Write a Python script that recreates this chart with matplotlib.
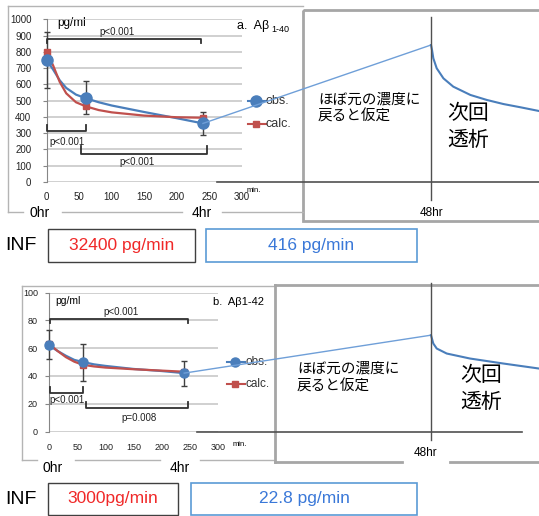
import numpy as np
import matplotlib.pyplot as plt
from matplotlib.patches import Rectangle

plt.rcParams['font.family'] = ['Liberation Sans', 'Noto Sans CJK JP', 'DejaVu Sans']

W, H = 539, 516

# 上段: Aβ1-40
t_marks = [0, 60, 240]
a40_obs = [750, 515, 360]
a40_obs_lo = [580, 415, 290]
a40_obs_hi = [920, 620, 430]
a40_calc = [800, 465, 395]
a40_curve_t = [0, 10, 20, 30, 45, 60, 80, 100, 150, 200, 240]
a40_obs_curve = [750, 690, 625, 578, 537, 515, 490, 470, 430, 392, 360]
a40_calc_curve = [800, 715, 615, 545, 490, 465, 442, 428, 408, 398, 395]
a40_peak = 842
a40_decay_h = [48, 48.2, 48.45, 49.1, 50.4, 52.3, 55.6, 58.8, 62.0, 65.3, 68.9]
a40_decay_v = [842, 811, 760, 699, 637, 586, 535, 504, 479, 459, 436]
a40_brackets = [(0, 237, 879, 854, 'p<0.001', 108, 922),
                (0, 60, 313, 350, 'p<0.001', 31, 246),
                (53, 246, 172, 221, 'p<0.001', 139, 123)]

# 下段: Aβ1-42
a42_obs = [62, 50, 42]
a42_obs_lo = [52, 36, 33]
a42_obs_hi = [73, 63, 51]
a42_calc = [63, 48, 43]
a42_curve_t = [0, 15, 30, 45, 60, 80, 100, 150, 200, 240]
a42_obs_curve = [62, 58, 54.5, 51.5, 50, 48.3, 47.2, 45, 43.5, 42]
a42_calc_curve = [63, 58, 53.5, 50.2, 48, 46.8, 46, 44.8, 43.8, 43]
a42_peak = 69.3
a42_decay_h = [48, 48.41, 49.02, 50.8, 54.95, 60.9, 67.25]
a42_decay_v = [69.3, 63.3, 59.7, 56.1, 52.5, 48.9, 45.3]
a42_brackets = [(2, 247, 80.8, 78, 'p<0.001', 128, 85.8),
                (2, 60, 27.6, 31.9, 'p<0.001', 32, 22.5),
                (66, 247, 16.8, 21, 'p=0.008', 160, 9.6)]

BLUE = '#4a7ebb'
RED = '#c0504d'
LINK = '#6f9fd8'
GRID = '#c8c8c8'

fig = plt.figure(figsize=(W / 100, H / 100), dpi=100)


def px_axes(x0, y0, x1, y1, z):
    ax = fig.add_axes([x0 / W, (H - y1) / H, (x1 - x0) / W, (y1 - y0) / H], zorder=z)
    ax.patch.set_visible(False)
    return ax


ov = px_axes(0, 0, W, H, 0)
ov.set_xlim(0, W)
ov.set_ylim(H, 0)
ov.axis('off')


def chart(box, ymax, ystep, obs, lo, hi, calc, ct, oc, cc, brackets, fs, ms, xpad, ypad):
    ax = px_axes(*box, 1)
    ax.set_xlim(0, 300)
    ax.set_ylim(0, ymax)
    ax.set_xticks(range(0, 301, 50))
    ax.set_yticks(np.arange(0, ymax + 1, ystep))
    ax.grid(axis='y', color=GRID, lw=1.2)
    ax.set_axisbelow(True)
    for s in ['top', 'right', 'bottom']:
        ax.spines[s].set_visible(False)
    ax.spines['left'].set_color('#868686')
    ax.tick_params(axis='x', length=0, pad=xpad, labelsize=fs, colors='#222222')
    ax.tick_params(axis='y', length=3, color='#868686', pad=ypad, labelsize=fs, labelcolor='#222222')
    ax.plot(ct, oc, color=BLUE, lw=1.6, clip_on=False, zorder=3, solid_joinstyle='round')
    ax.plot(ct, cc, color=RED, lw=1.6, clip_on=False, zorder=3, solid_joinstyle='round')
    ax.errorbar(t_marks, obs, yerr=[np.subtract(obs, lo), np.subtract(hi, obs)], fmt='none',
                ecolor='#404040', elinewidth=1, capsize=2.5, capthick=1, zorder=4, clip_on=False)
    ax.plot(t_marks, calc, 's', color=RED, ms=ms[1], zorder=5, clip_on=False)
    ax.plot(t_marks, obs, 'o', color=BLUE, ms=ms[0], zorder=5, clip_on=False)
    for x0, x1, y, yt, lab, lx, ly in brackets:
        ax.plot([x0, x0, x1, x1], [yt, y, y, yt], color='#303030', lw=1.3, clip_on=False, zorder=6)
        ax.text(lx, ly, lab, ha='center', va='center', fontsize=7, color='#222222')
    return ax


def schematic(chart_ax, box, ymax, start_v, peak, dh, dv, vline, hline):
    x0 = box[0] + (box[2] - box[0]) * 240 / 300
    ax = px_axes(x0, box[1], W, box[3], 2)
    ax.axis('off')
    px_hr = (431 - x0) / 44
    ax.set_xlim(4, 48 + (W - 431) / px_hr)
    ax.set_ylim(0, ymax)
    ax.plot([4, 48], [start_v, peak], color=LINK, lw=1, clip_on=False)
    ax.plot(dh, dv, color=BLUE, lw=1.5, clip_on=False)
    ax.plot([48, 48], vline, color='#505050', lw=1, clip_on=False)
    ax.plot(hline, [0, 0], color='#505050', lw=1.2, clip_on=False)
    return ax


top_box = (46.7, 19.3, 242, 182)
bot_box = (49, 292.5, 218, 431.5)

ax1 = chart(top_box, 1000, 100, a40_obs, a40_obs_lo, a40_obs_hi, a40_calc, a40_curve_t,
            a40_obs_curve, a40_calc_curve, a40_brackets, 7, (8, 5), 7, 8)
ax2 = chart(bot_box, 100, 20, a42_obs, a42_obs_lo, a42_obs_hi, a42_calc, a42_curve_t,
            a42_obs_curve, a42_calc_curve, a42_brackets, 6.5, (6.5, 5), 8.5, 5)
schematic(ax1, top_box, 1000, a40_obs[-1], a40_peak, a40_decay_h, a40_decay_v, [1014, -110], [6.7, 70])
schematic(ax2, bot_box, 100, a42_obs[-1], a42_peak, a42_decay_h, a42_decay_v, [106.7, -6.3], [6.3, 64.2])

FR = '#b4b4b4'
PN = '#a6a6a6'
# 上段 枠
ov.plot([8, 8], [6, 212], color=FR, lw=1)
ov.plot([8, 303], [6, 6], color=FR, lw=1)
for a, b in [(8, 23), (62, 182), (222, 303)]:
    ov.plot([a, b], [212, 212], color=FR, lw=1)
ov.add_patch(Rectangle((303, 10), 260, 211, fill=False, edgecolor=PN, lw=2))
# 下段 枠
ov.plot([22, 22], [286, 460], color=FR, lw=1)
ov.plot([22, 275], [286, 286], color=FR, lw=1)
for a, b in [(22, 37), (75, 160), (200, 275)]:
    ov.plot([a, b], [460, 460], color=FR, lw=1)
ov.plot([275, 275], [285, 462], color=PN, lw=2)
ov.plot([275, 545], [285, 285], color=PN, lw=2)
for a, b in [(275, 402), (450, 545)]:
    ov.plot([a, b], [462, 462], color=PN, lw=2)

# 凡例
for (x, yo, yc, ms, fs) in [(256, 100.7, 124, 8, 9), (235, 362, 384, 6.5, 8.5)]:
    ov.plot([x - 8, x + 10], [yo, yo], color=BLUE, lw=1.5)
    ov.plot(x, yo, 'o', color=BLUE, ms=ms)
    ov.text(x + 10, yo, 'obs.', fontsize=fs, va='center', color='#333333')
    ov.plot([x - 8, x + 10], [yc, yc], color=RED, lw=1.5)
    ov.plot(x, yc, 's', color=RED, ms=5)
    ov.text(x + 10, yc, 'calc.', fontsize=fs, va='center', color='#333333')

# 文字
ov.text(57, 23, 'pg/ml', fontsize=8.5, va='center')
ov.text(237, 26, 'a.  Aβ', fontsize=9, va='center')
ov.text(271, 30, '1-40', fontsize=6.5, va='center')
ov.text(254, 190, 'min.', fontsize=5.5, ha='center', va='center')
ov.text(40, 213, '0hr', fontsize=10, ha='center', va='center')
ov.text(202, 213, '4hr', fontsize=10, ha='center', va='center')
ov.text(431, 213, '48hr', fontsize=8.5, ha='center', va='center')
ov.text(318, 100, 'ほぼ元の濃度に', fontsize=10.5, va='center')
ov.text(318, 117, '戻ると仮定', fontsize=10.5, va='center')
ov.text(447, 113, '次回', fontsize=15, va='center')
ov.text(447, 140, '透析', fontsize=15, va='center')

ov.text(55, 301, 'pg/ml', fontsize=7.5, va='center')
ov.text(213, 302, 'b.  Aβ1-42', fontsize=8, va='center')
ov.text(240, 444, 'min.', fontsize=5.5, ha='center', va='center')
ov.text(53, 468, '0hr', fontsize=10, ha='center', va='center')
ov.text(180, 468, '4hr', fontsize=10, ha='center', va='center')
ov.text(425, 453, '48hr', fontsize=8.5, ha='center', va='center')
ov.text(297, 369, 'ほぼ元の濃度に', fontsize=10.5, va='center')
ov.text(297, 387, '戻ると仮定', fontsize=10.5, va='center')
ov.text(460, 375, '次回', fontsize=15, va='center')
ov.text(460, 402, '透析', fontsize=15, va='center')

# INF
for y0, y1, b1, b2, t1, t2 in [(229, 262, (48, 195), (206, 417), '32400 pg/min', '416 pg/min'),
                               (483, 515, (48, 178), (191, 417), '3000pg/min', '22.8 pg/min')]:
    yc = (y0 + y1) / 2
    ov.text(21, yc, 'INF', fontsize=14, ha='center', va='center')
    ov.add_patch(Rectangle((b1[0], y0), b1[1] - b1[0], y1 - y0, fill=False, edgecolor='#404040', lw=1))
    ov.add_patch(Rectangle((b2[0], y0), b2[1] - b2[0], y1 - y0, fill=False, edgecolor='#5b9bd5', lw=1.2))
    ov.text(sum(b1) / 2, yc, t1, fontsize=12.5, ha='center', va='center', color='#f02828')
    ov.text(sum(b2) / 2, yc, t2, fontsize=12.5, ha='center', va='center', color='#3a78d8')

fig.savefig('out.png', dpi=100)
